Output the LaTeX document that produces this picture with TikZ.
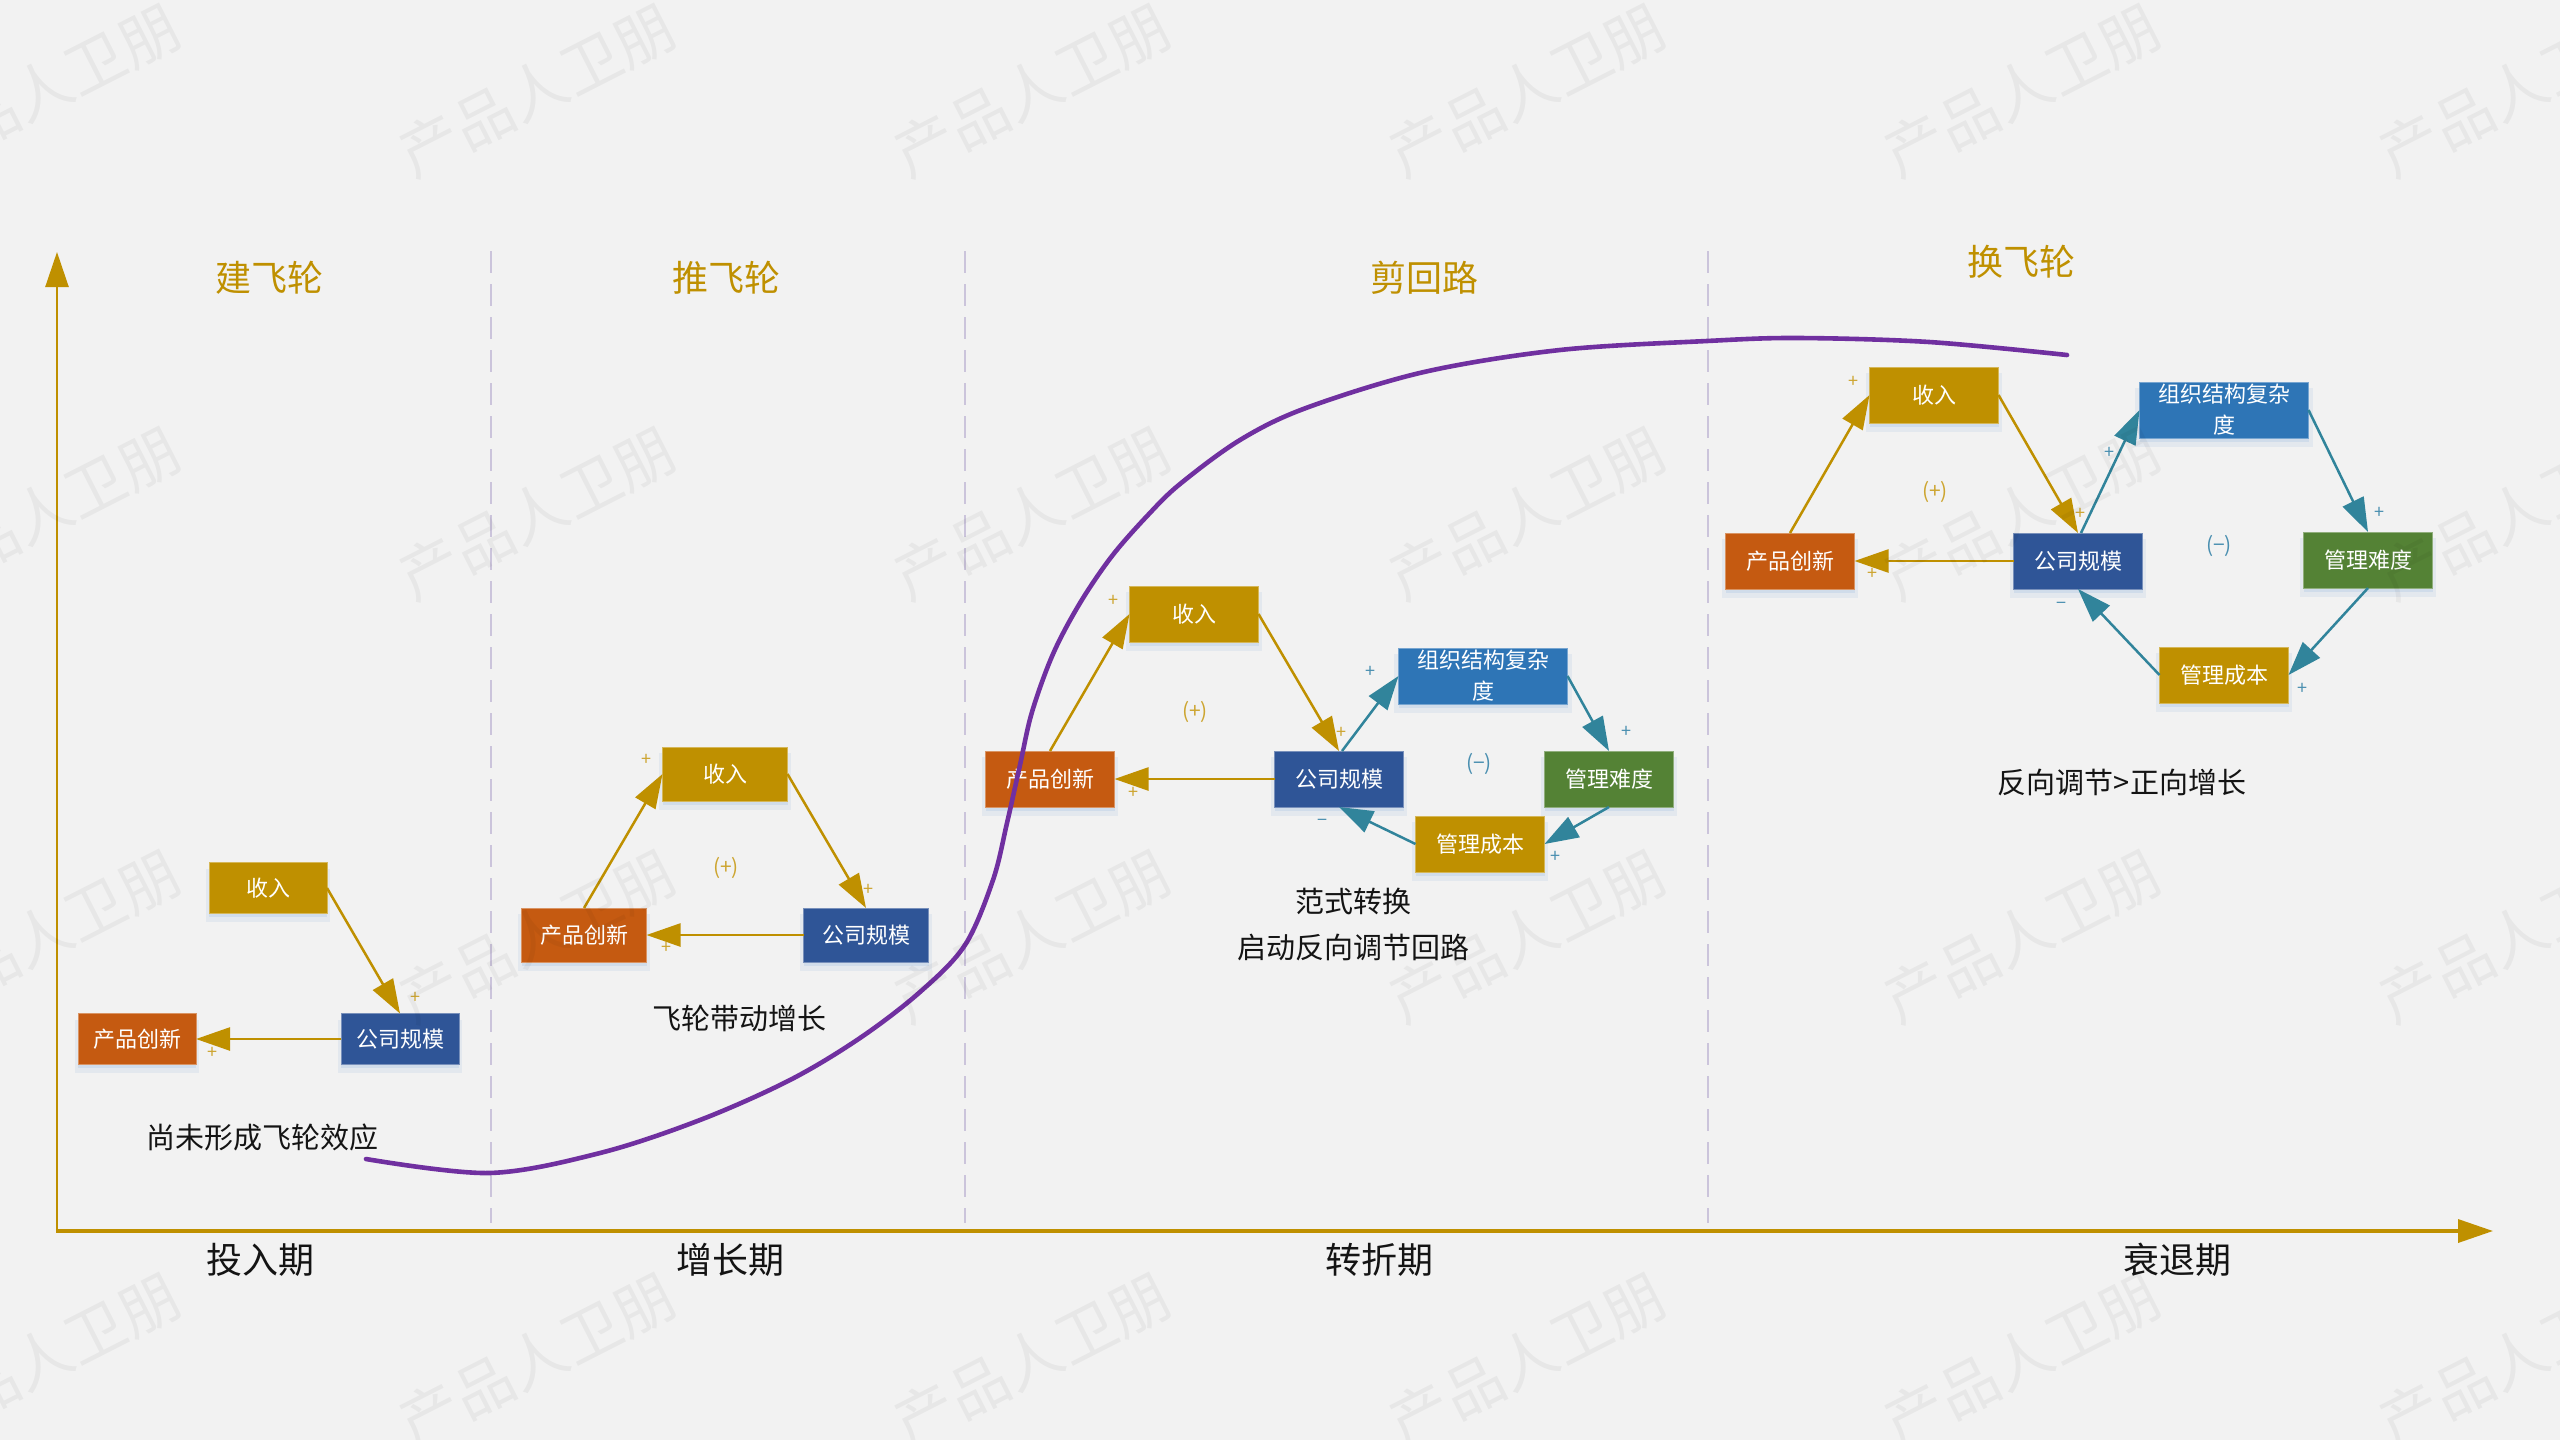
\documentclass[tikz,border=0pt]{standalone}
\usepackage{fontspec}
\setmainfont{Noto Sans CJK SC}
\usetikzlibrary{arrows.meta,shadows}
\definecolor{bgc}{HTML}{F2F2F2}
\definecolor{goldc}{HTML}{BF9000}
\definecolor{goldl}{HTML}{CDA530}
\definecolor{orangec}{HTML}{C55A11}
\definecolor{navyc}{HTML}{2F5597}
\definecolor{bluec}{HTML}{2E75B6}
\definecolor{greenc}{HTML}{548235}
\definecolor{tealc}{HTML}{31849B}
\definecolor{teall}{HTML}{4A8FB0}
\definecolor{purplec}{HTML}{7030A0}
\definecolor{dashc}{HTML}{CBC4DB}
\definecolor{shadowc}{HTML}{AFC6E3}
\definecolor{inkc}{HTML}{141414}
\begin{document}
\begin{tikzpicture}[x=0.5pt,y=-0.5pt,
  every node/.style={inner sep=0pt,outer sep=0pt},
  box/.style={rectangle,fill=#1,draw=#1!65!white,line width=0.5pt,text=white,
    font=\fontsize{11}{15.5}\selectfont,align=center,
    general shadow={shadow yshift=-3.5pt,shadow scale=1.05,fill=shadowc,opacity=0.22},
    general shadow={shadow yshift=-1.8pt,fill=shadowc,opacity=0.35}},
  sA/.style={minimum width=59pt,minimum height=25.5pt},
  sB/.style={minimum width=62.5pt,minimum height=27pt},
  sC/.style={minimum width=64.5pt,minimum height=28pt},
  sW/.style={minimum width=84.5pt,minimum height=28pt},
  garr/.style={draw=goldc,line width=1.25pt,-{Triangle[length=17pt,width=11.5pt]}},
  tarr/.style={draw=tealc,line width=1.25pt,-{Triangle[length=17pt,width=11.5pt]}},
  gp/.style={text=goldl,font=\fontsize{9}{10}\selectfont},
  tp/.style={text=teall,font=\fontsize{9}{10}\selectfont},
  gloop/.style={text=goldl,font=\fontsize{10.5}{12}\selectfont},
  tloop/.style={text=teall,font=\fontsize{10.5}{12}\selectfont},
  phase/.style={text=goldc,font=\fontsize{18}{20}\selectfont},
  period/.style={text=inkc,font=\fontsize{18}{20}\selectfont},
  note/.style={text=inkc,font=\fontsize{14.5}{16}\selectfont},
  axisline/.style={draw=goldc,-{Triangle[length=17.5pt,width=11.5pt]}},
  divider/.style={draw=dashc,line width=1pt,dash pattern=on 11pt off 5.5pt},
  sdcurve/.style={draw=purplec,line width=2.3pt,line cap=round},
  wm/.style={text=black,text opacity=0.045,rotate=27,font=\fontsize{30}{32}\selectfont}
]
\useasboundingbox (0,0) rectangle (2560,1440);
\fill[bgc] (0,0) rectangle (2560,1440);

% axes
\coordinate (O) at (57,1231);
\coordinate (Ytop) at (57,252);
\coordinate (Xend) at (2493,1231);
\draw[axisline,line width=1.25pt] (O) -- (Ytop);
\draw[axisline,line width=1.75pt] ([xshift=-0.6pt]O) -- (Xend);

% dividers
\foreach \dx [count=\i] in {491,965,1708}{
  \coordinate (dt\i) at (\dx,251);
  \coordinate (db\i) at (\dx,1223);
  \draw[divider] (dt\i) -- (db\i);
}

% phase titles
\node[phase] (t1) at (269,278) {建飞轮};
\node[phase] (t2) at (726,278) {推飞轮};
\node[phase] (t3) at (1424,278) {剪回路};
\node[phase] (t4) at (2021,262) {换飞轮};

% period labels
\node[period] (q1) at (260,1260) {投入期};
\node[period] (q2) at (730,1260) {增长期};
\node[period] (q3) at (1379,1260) {转折期};
\node[period] (q4) at (2177,1260) {衰退期};

% ---------- phase 1
\node[box=goldc,sA] (r1) at (268,888) {收入};
\node[box=orangec,sA] (c1) at (137,1039) {产品创新};
\node[box=navyc,sA] (s1) at (400,1039) {公司规模};
\draw[garr] (r1.east) -- (s1.north);
\draw[garr] (s1.west) -- (c1.east);
\node[gp] (p1a) at (415,998) {+};
\node[gp] (p1b) at (212,1053) {+};
\node[note] (n1) at (262,1137) {尚未形成飞轮效应};

% ---------- phase 2
\node[box=goldc,sB] (r2) at (725,774) {收入};
\node[box=orangec,sB] (c2) at (584,935) {产品创新};
\node[box=navyc,sB] (s2) at (866,935) {公司规模};
\draw[garr] (c2.north) -- (r2.west);
\draw[garr] (r2.east) -- (s2.north);
\draw[garr] (s2.west) -- (c2.east);
\node[gp] (p2a) at (646,760) {+};
\node[gp] (p2b) at (868,890) {+};
\node[gp] (p2c) at (666,948) {+};
\node[gloop] (l2) at (726,868) {(+)};
\node[note] (n2) at (739,1018) {飞轮带动增长};

% ---------- phase 3
\node[box=goldc,sC] (r3) at (1194,614) {收入};
\node[box=orangec,sC] (c3) at (1050,779) {产品创新};
\node[box=navyc,sC] (s3) at (1339,779) {公司规模};
\node[box=bluec,sW] (o3) at (1483,676) {组织结构复杂\\度};
\node[box=greenc,sC] (d3) at (1609,779) {管理难度};
\node[box=goldc,sC] (m3) at (1480,844) {管理成本};
\draw[garr] (c3.north) -- (r3.west);
\draw[garr] (r3.east) -- (s3.north);
\draw[garr] (s3.west) -- (c3.east);
\draw[tarr] ([xshift=1.5pt]s3.north) -- (o3.west);
\draw[tarr] (o3.east) -- (d3.north);
\draw[tarr] (d3.south) -- (m3.east);
\draw[tarr] (m3.west) -- (s3.south);
\node[gp] (p3a) at (1113,601) {+};
\node[gp] (p3b) at (1341,733) {+};
\node[gp] (p3c) at (1133,793) {+};
\node[gloop] (l3) at (1195,712) {(+)};
\node[tp] (p3d) at (1370,672) {+};
\node[tp] (p3e) at (1626,732) {+};
\node[tp] (p3f) at (1555,857) {+};
\node[tp] (p3g) at (1322,823) {−};
\node[tloop] (l3b) at (1479,764) {(−)};
\node[note] (n3a) at (1353,901) {范式转换};
\node[note] (n3b) at (1353,947) {启动反向调节回路};

% ---------- phase 4
\node[box=goldc,sC] (r4) at (1934,395) {收入};
\node[box=orangec,sC] (c4) at (1790,561) {产品创新};
\node[box=navyc,sC] (s4) at (2078,561) {公司规模};
\node[box=bluec,sW] (o4) at (2224,410) {组织结构复杂\\度};
\node[box=greenc,sC] (d4) at (2368,560) {管理难度};
\node[box=goldc,sC] (m4) at (2224,675) {管理成本};
\draw[garr] (c4.north) -- (r4.west);
\draw[garr] (r4.east) -- (s4.north);
\draw[garr] (s4.west) -- (c4.east);
\draw[tarr] ([xshift=1.5pt]s4.north) -- (o4.west);
\draw[tarr] (o4.east) -- (d4.north);
\draw[tarr] (d4.south) -- (m4.east);
\draw[tarr] (m4.west) -- (s4.south);
\node[gp] (p4a) at (1853,382) {+};
\node[gp] (p4b) at (2080,514) {+};
\node[gp] (p4c) at (1872,574) {+};
\node[gloop] (l4) at (1935,492) {(+)};
\node[tp] (p4d) at (2109,453) {+};
\node[tp] (p4e) at (2379,513) {+};
\node[tp] (p4f) at (2302,689) {+};
\node[tp] (p4g) at (2061,606) {−};
\node[tloop] (l4b) at (2219,546) {(−)};
\node[note] (n4) at (2122,782) {反向调节>正向增长};

% ---------- S curve
\draw[sdcurve] plot[smooth,tension=0.55] coordinates {
  (366,1159) (489,1173) (600,1153) (700,1120) (790,1080) (860,1038)
  (920,992) (965,945) (993,880) (1007,823) (1020,765) (1032,712)
  (1053,654) (1080,603) (1112,556) (1148,515) (1180,484) (1240,440)
  (1306,408) (1424,372) (1560,350) (1707,341) (1797,338) (1929,342) (2067,355)};

% ---------- watermarks
\foreach \wx in {42,537,1032,1527,2022,2517}{
  \foreach \wy in {90,513,936,1359}{
    \node[wm] (w\wx-\wy) at (\wx,\wy) {产品人卫朋};
  }
}
\end{tikzpicture}
\end{document}
